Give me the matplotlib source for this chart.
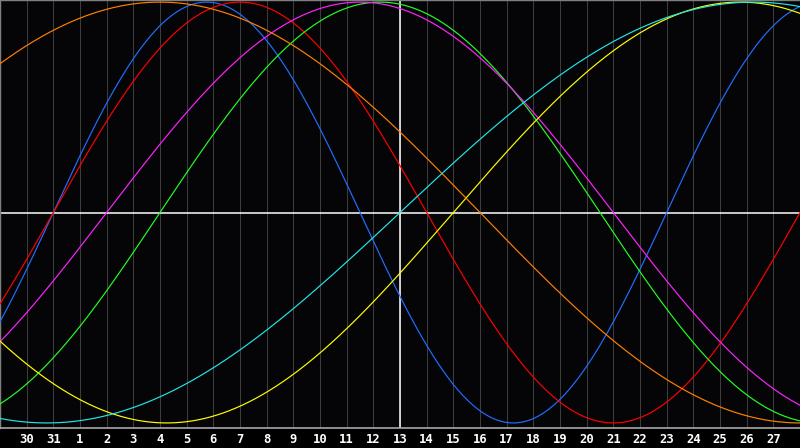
import numpy as np
import matplotlib.pyplot as plt

# day labels under grid lines 1..29 (day 13 is the marked day, in the middle)
day_labels = [30, 31] + list(range(1, 28))
today_index = 15

# biorhythm cycles: period (days) and day-in-cycle on the marked day
periods = [23, 28, 33, 38, 43, 48, 53]
day_in_cycle = [13, 13, 9, 11, 41, 21, 0]
colors = ["#1f6fff", "#ff0000", "#22ff22", "#ff22ff", "#ffff00", "#ff8000", "#22e6e6"]


def cycle_curve(k, period, phase):
    return np.sin(2 * np.pi * (phase + k - today_index) / period)


def plot():
    fig = plt.figure(figsize=(8, 4.48), dpi=100, facecolor="black")
    ax = fig.add_axes([0, 20 / 448, 1, 428 / 448])
    ax.set_facecolor("#050508")

    n = len(day_labels) + 1
    ax.vlines(range(1, n), -2, 2, color="#3c3c3c", lw=0.75, zorder=1)
    ax.axhline(0, color="white", lw=1.1, zorder=2)
    ax.axvline(today_index, color="white", lw=1.1, zorder=2)

    k = np.linspace(0, n, 1200)
    for period, phase, c in zip(periods, day_in_cycle, colors):
        ax.plot(k, cycle_curve(k, period, phase), color=c, lw=0.85, zorder=3)

    ax.set_xlim(0, n)
    ax.set_ylim(-1.024, 1.01)
    ax.set_yticks([])
    ax.set_xticks(range(1, n))
    ax.set_xticklabels([str(d) for d in day_labels], color="white",
                       fontsize=8.8, fontweight="bold", family="DejaVu Sans Mono")
    ax.tick_params(axis="x", length=0, pad=3.5)

    for s in ["left", "top"]:
        ax.spines[s].set_color("#808080")
        ax.spines[s].set_linewidth(1)
    ax.spines["bottom"].set_color("#a8a8a8")
    ax.spines["bottom"].set_linewidth(1.2)
    ax.spines["right"].set_visible(False)
    return fig


if __name__ == "__main__":
    fig = plot()
    fig.savefig("out.png", dpi=100, facecolor="black")
